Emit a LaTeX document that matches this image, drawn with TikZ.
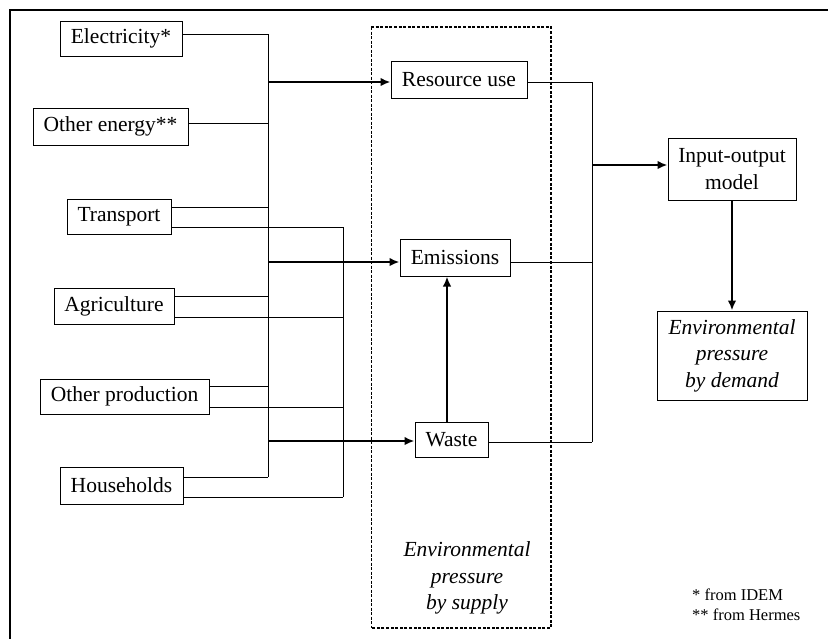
\documentclass[tikz,border=0pt]{standalone}
\usepackage{fontspec}
\setmainfont{Liberation Serif}
\usetikzlibrary{arrows.meta}
\begin{document}
\begin{tikzpicture}[x=1pt,y=-1pt,
  font=\fontsize{21.5}{26.5}\selectfont,
  box/.style={draw, line width=1pt, inner sep=0pt, align=center},
  wire/.style={line width=1pt},
  flow/.style={line width=2pt, -{Latex[length=10pt,width=8.5pt]}},
  frameline/.style={line width=2pt},
  note/.style={font=\fontsize{16.5}{20}\selectfont, align=left, inner sep=0pt}]
\useasboundingbox (0,0) rectangle (828,638);
% frame
\draw[frameline] (10,640) -- (10,10) -- (830,10);
% supply group box
\draw[line width=0.7pt, dash pattern=on 3pt off 1.5pt] (371,27) -- (371,628);
\draw[line width=1.5pt, dash pattern=on 3pt off 1.6pt] (371,27) -- (551,27) -- (551,628) -- (371,628);
% left boxes
\node[box, minimum width=122pt, minimum height=35pt] (elec) at (121,38.5) {Electricity*};
\node[box, minimum width=155pt, minimum height=37pt] (oen) at (110.5,126.5) {Other energy**};
\node[box, minimum width=104pt, minimum height=35pt] (trans) at (119,216.5) {Transport};
\node[box, minimum width=120pt, minimum height=36pt] (agri) at (114,306) {Agriculture};
\node[box, minimum width=169pt, minimum height=35pt] (oprod) at (124.5,396.5) {Other production};
\node[box, minimum width=123pt, minimum height=37pt] (house) at (121.5,485.5) {Households};
% middle boxes
\node[box, minimum width=136pt, minimum height=37pt] (res) at (459,79.5) {Resource use};
\node[box, minimum width=110pt, minimum height=37pt] (emis) at (455,257.5) {Emissions};
\node[box, minimum width=73pt, minimum height=35pt] (waste) at (451.5,439.5) {Waste};
% right boxes
\node[box, minimum width=128pt, minimum height=62pt] (io) at (732,169) {Input-output\\model};
\node[box, minimum width=150pt, minimum height=89pt, font=\fontsize{21.5}{26.5}\selectfont\itshape] (dem) at (732,355.5) {Environmental\\pressure\\by demand};
% labels
\node[align=center, inner sep=0pt, font=\fontsize{21.5}{26.5}\selectfont\itshape] (supply) at (467,578) {Environmental\\pressure\\by supply};
\node[note, anchor=west] (foot) at (692,605) {* from IDEM\\** from Hermes};
% bus coordinates
\coordinate (b1bot) at (268,477);
\coordinate (b2bot) at (343,497);
\coordinate (b3bot) at (592,442);
\coordinate (b3mid) at (592,262);
\coordinate (j1) at (268,82);
\coordinate (j2) at (268,262);
\coordinate (j3) at (268,441);
\coordinate (j4) at (592,165);
% left wiring
\draw[wire] ([yshift=4.5pt]elec.east) -| (b1bot);
\draw[wire] ([yshift=3.5pt]oen.east) -| (b1bot);
\draw[wire] ([yshift=9.5pt]trans.east) -| (b1bot);
\draw[wire] ([yshift=10pt]agri.east) -| (b1bot);
\draw[wire] ([yshift=10.5pt]oprod.east) -| (b1bot);
\draw[wire] ([yshift=8.5pt]house.east) -| (b1bot);
\draw[wire] ([yshift=-10.5pt]trans.east) -| (b2bot);
\draw[wire] ([yshift=-11pt]agri.east) -| (b2bot);
\draw[wire] ([yshift=-10.5pt]oprod.east) -| (b2bot);
\draw[wire] ([yshift=-11.5pt]house.east) -| (b2bot);
% flows into supply boxes
\draw[flow] (j1) -- (j1 -| res.west);
\draw[flow] (j2) -- (j2 -| emis.west);
\draw[flow] (j3) -- (j3 -| waste.west);
\path ([xshift=-4.5pt]waste.north) coordinate (wn);
\draw[flow] (wn) -- (wn |- emis.south);
% right wiring
\draw[wire] ([yshift=-2.5pt]res.east) -| (b3bot);
\draw[wire] ([yshift=-4.5pt]emis.east) -- (b3mid);
\draw[wire] ([yshift=-2.5pt]waste.east) -| (b3bot);
\draw[flow] (j4) -- (j4 -| io.west);
\draw[flow] (io.south) -- (dem.north);
\end{tikzpicture}
\end{document}
